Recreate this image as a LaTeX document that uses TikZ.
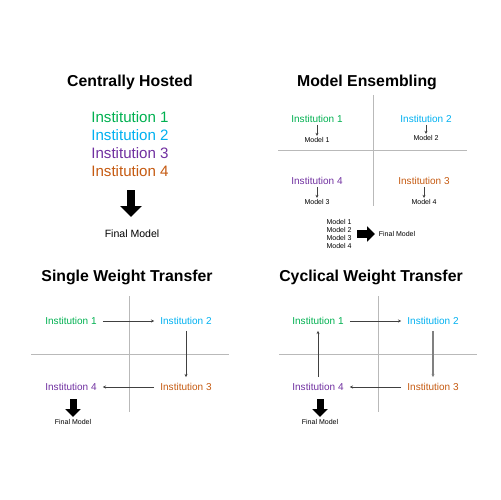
\documentclass[tikz,border=0pt]{standalone}
\usepackage{fontspec}
\setmainfont{Liberation Sans}
\usetikzlibrary{arrows.meta}
\definecolor{instgreen}{RGB}{0,176,80}
\definecolor{instcyan}{RGB}{0,176,240}
\definecolor{instpurple}{RGB}{112,48,160}
\definecolor{instbrown}{RGB}{197,90,17}
\tikzset{paneltitle/.style={font=\fontsize{9}{10}\selectfont\bfseries}}
\tikzset{bigInst/.style={font=\fontsize{8.6}{10}\selectfont}}
\tikzset{inst/.style={font=\fontsize{5.7}{7}\selectfont}}
\tikzset{modeltxt/.style={font=\fontsize{4}{5}\selectfont,inner sep=0.6pt}}
\tikzset{divider/.style={gray!55,line width=0.4pt}}
\tikzset{flow/.style={-{Stealth[length=1.8pt,width=1.7pt]},black!75,line width=0.35pt}}

\begin{document}
\begin{tikzpicture}[x=0.02cm,y=-0.02cm]
      \useasboundingbox (0,0) rectangle (500,500);
      % centrally hosted
      \node[paneltitle] at (130,82) (chtitle) {Centrally Hosted};
      \node[bigInst,text=instgreen] at (130,117) (ch1) {Institution 1};
      \node[bigInst,text=instcyan] at (130,135) (ch2) {Institution 2};
      \node[bigInst,text=instpurple] at (130,153) (ch3) {Institution 3};
      \node[bigInst,text=instbrown] at (130,171) (ch4) {Institution 4};
      \node[font=\fontsize{6}{7}\selectfont] at (132,234) (chfinal) {Final Model};
      \coordinate (chfrom) at (131,190);
      \coordinate (chto) at (131,217);
      \draw[line width=0.16cm,-{Triangle[length=0.22cm,width=0.42cm]}] (chfrom) -- (chto);

      % model ensembling
      \node[paneltitle] at (367,82) (metitle) {Model Ensembling};
      \draw[divider] (373,95) -- (373,206);
      \draw[divider] (278,150) -- (467,150);
      \node[inst,text=instgreen,inner sep=1pt] at (317,119) (me1) {Institution 1};
      \node[inst,text=instcyan,inner sep=1pt] at (426,119) (me2) {Institution 2};
      \node[inst,text=instpurple,inner sep=1pt] at (317,181) (me4) {Institution 4};
      \node[inst,text=instbrown,inner sep=1pt] at (424,181) (me3) {Institution 3};
      \node[modeltxt] at (317,140) (mm1) {Model 1};
      \node[modeltxt] at (426,138) (mm2) {Model 2};
      \node[modeltxt] at (317,202) (mm3) {Model 3};
      \node[modeltxt] at (424,202) (mm4) {Model 4};
      \draw[flow] (me1) -- (mm1);
      \draw[flow] (me2) -- (mm2);
      \draw[flow] (me4) -- (mm3);
      \draw[flow] (me3) -- (mm4);
      \foreach \i/\yy in {1/222,2/230,3/238,4/246}
        \node[modeltxt] at (339,\yy) (list\i) {Model \i};
      \node[modeltxt] at (397,234) (mefinal) {Final Model};
      \coordinate (mefrom) at (357,234);
      \coordinate (meto) at (375,234);
      \draw[line width=0.16cm,-{Triangle[length=0.16cm,width=0.3cm]}] (mefrom) -- (meto);

      % single weight transfer
      \node[paneltitle] at (127,277) (swtitle) {Single Weight Transfer};
      \draw[divider] (129,296) -- (129,412);
      \draw[divider] (31,354) -- (229,354);
      \node[inst,text=instgreen] at (71,321) (sw1) {Institution 1};
      \node[inst,text=instcyan] at (186,321) (sw2) {Institution 2};
      \node[inst,text=instpurple] at (71,387) (sw4) {Institution 4};
      \node[inst,text=instbrown] at (186,387) (sw3) {Institution 3};
      \draw[flow] (sw1) -- (sw2);
      \draw[flow] (sw2) -- (sw3);
      \draw[flow] (sw3) -- (sw4);
      \node[modeltxt] at (73,422) (swfinal) {Final Model};
      \coordinate (swfrom) at (73,399);
      \coordinate (swto) at (73,417);
      \draw[line width=0.14cm,-{Triangle[length=0.16cm,width=0.3cm]}] (swfrom) -- (swto);

      % cyclical weight transfer
      \node[paneltitle] at (371,277) (cwtitle) {Cyclical Weight Transfer};
      \draw[divider] (378,296) -- (378,412);
      \draw[divider] (279,354) -- (477,354);
      \node[inst,text=instgreen] at (318,321) (cw1) {Institution 1};
      \node[inst,text=instcyan] at (433,321) (cw2) {Institution 2};
      \node[inst,text=instpurple] at (318,387) (cw4) {Institution 4};
      \node[inst,text=instbrown] at (433,387) (cw3) {Institution 3};
      \draw[flow] (cw1) -- (cw2);
      \draw[flow,gray,line width=0.8pt] (cw2) -- (cw3);
      \draw[flow] (cw3) -- (cw4);
      \draw[flow] (cw4) -- (cw1);
      \node[modeltxt] at (320,422) (cwfinal) {Final Model};
      \coordinate (cwfrom) at (320,399);
      \coordinate (cwto) at (320,417);
      \draw[line width=0.14cm,-{Triangle[length=0.16cm,width=0.3cm]}] (cwfrom) -- (cwto);
    \end{tikzpicture}
\end{document}
